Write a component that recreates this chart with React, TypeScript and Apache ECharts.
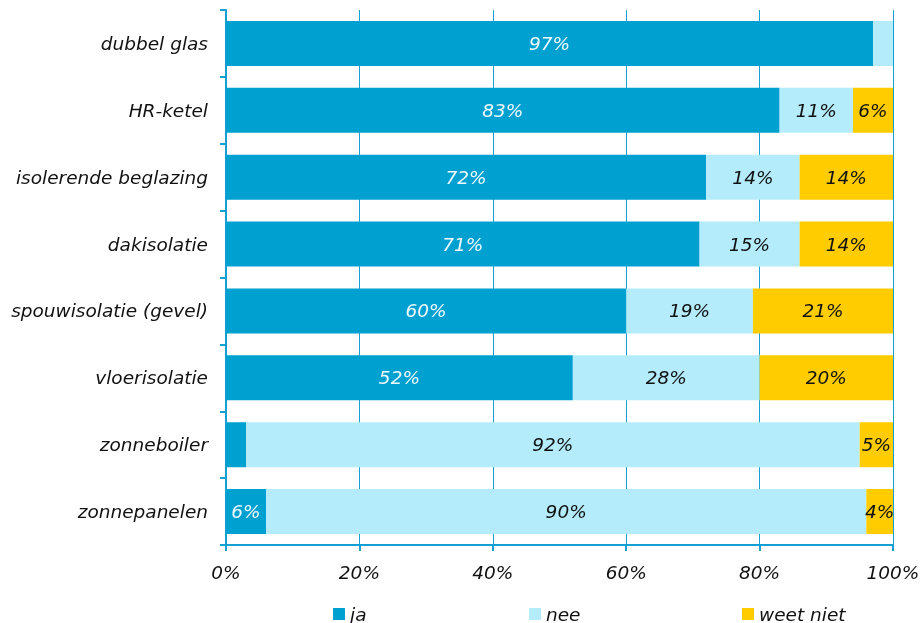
import React, { useEffect, useRef } from "react";
import * as echarts from "echarts";

const categories = [
  "dubbel glas",
  "HR-ketel",
  "isolerende beglazing",
  "dakisolatie",
  "spouwisolatie (gevel)",
  "vloerisolatie",
  "zonneboiler",
  "zonnepanelen",
];
const ja = [97, 83, 72, 71, 60, 52, 3, 6];
const nee = [3, 11, 14, 15, 19, 28, 92, 90];
const weetNiet = [0, 6, 14, 14, 21, 20, 5, 4];
const xTicks = [0, 20, 40, 60, 80, 100];
const seriesNames = ["ja", "nee", "weet niet"];

const FONT = "'DejaVu Sans', Verdana, sans-serif";
const AXIS = "#14a0d2";
const FS = 18.5;

export default function App() {
  const ref = useRef<HTMLDivElement>(null);
  useEffect(() => {
    if (!ref.current) return;
    const chart = echarts.init(ref.current, undefined, { renderer: "svg" });
    const mk = (vals: number[], minShow: number) =>
      vals.map((v) => ({ value: v, label: { show: v >= minShow } }));
    const labelBase = {
      show: true,
      position: "inside",
      fontFamily: FONT,
      fontStyle: "italic",
      fontSize: FS,
      formatter: (p: any) => p.value + "%",
    };
    chart.setOption({
      animation: false,
      textStyle: { fontFamily: FONT },
      grid: { left: 226, right: 30, top: 10, bottom: 78, containLabel: false },
      legend: [0, 1, 2].map((i) => ({
        data: [seriesNames[i]],
        left: [333, 529, 742][i],
        top: 604,
        padding: 0,
        itemWidth: 12,
        itemHeight: 12,
        itemTextGap: 6,
        icon: "rect",
        selectedMode: false,
        textStyle: {
          fontFamily: FONT,
          fontStyle: "italic",
          fontSize: FS,
          lineHeight: 20,
          color: "#111",
        },
      })),
      xAxis: {
        type: "value",
        min: 0,
        max: 100,
        interval: 20,
        axisLine: { show: true, lineStyle: { color: AXIS, width: 2 } },
        axisTick: { show: true, length: 6, lineStyle: { color: AXIS, width: 2 } },
        splitLine: { show: true, lineStyle: { color: AXIS, width: 1 } },
        axisLabel: {
          margin: 18,
          fontFamily: FONT,
          fontStyle: "italic",
          fontSize: FS,
          color: "#111",
          formatter: (v: number) => (xTicks.includes(v) ? v + "%" : ""),
        },
      },
      yAxis: {
        type: "category",
        data: categories,
        inverse: true,
        axisLine: { show: true, lineStyle: { color: AXIS, width: 2 } },
        axisTick: { show: true, length: 6, lineStyle: { color: AXIS, width: 2 } },
        axisLabel: {
          margin: 18,
          fontFamily: FONT,
          fontStyle: "italic",
          fontSize: FS,
          color: "#111",
        },
      },
      series: [
        {
          name: "ja",
          type: "bar",
          stack: "t",
          barWidth: 45,
          data: mk(ja, 5),
          itemStyle: { color: "#00a0d0" },
          label: { ...labelBase, color: "#eef8fc" },
        },
        {
          name: "nee",
          type: "bar",
          stack: "t",
          barWidth: 45,
          data: mk(nee, 5),
          itemStyle: { color: "#b4ecfc" },
          label: { ...labelBase, color: "#111" },
        },
        {
          name: "weet niet",
          type: "bar",
          stack: "t",
          barWidth: 45,
          data: mk(weetNiet, 1),
          itemStyle: { color: "#ffcc00" },
          label: { ...labelBase, color: "#111" },
        },
      ],
    });
    return () => chart.dispose();
  }, []);
  return <div ref={ref} style={{ width: 923, height: 623, position: "fixed", left: 0, top: 0 }} />;
}
